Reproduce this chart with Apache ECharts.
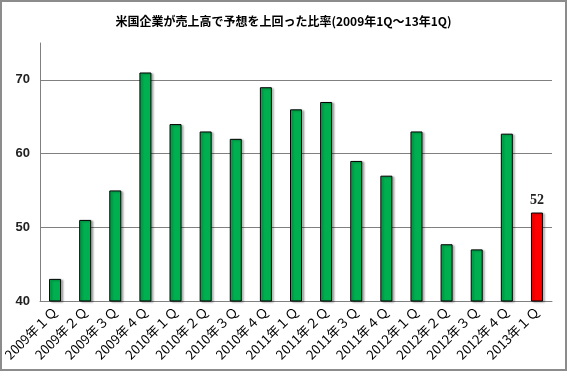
<!DOCTYPE html>
<html><head><meta charset="utf-8">
<script src="https://cdn.jsdelivr.net/npm/echarts@6/dist/echarts.min.js"></script>
<style>
html,body{margin:0;padding:0;background:#fff;}
#wrap{width:567px;height:371px;box-sizing:border-box;border:2px solid #8c8c8c;position:relative;}
#c{position:absolute;left:-2px;top:-2px;width:567px;height:371px;}
</style></head>
<body><div id="wrap"><div id="c"></div></div>
<script>
const categories = ["2009年１Ｑ","2009年２Ｑ","2009年３Ｑ","2009年４Ｑ","2010年１Ｑ","2010年２Ｑ","2010年３Ｑ","2010年４Ｑ","2011年１Ｑ","2011年２Ｑ","2011年３Ｑ","2011年４Ｑ","2012年１Ｑ","2012年２Ｑ","2012年３Ｑ","2012年４Ｑ","2013年１Ｑ"];
const values = [43, 51, 55, 71, 64, 63, 62, 69, 66, 67, 59, 57, 63, 47.7, 47, 62.7, 52];
const highlightIndex = 16;
const titleText = "米国企業が売上高で予想を上回った比率(2009年1Q～13年1Q)";

const chart = echarts.init(document.getElementById('c'), null, {renderer:'canvas'});
const data = values.map((v,i)=>({
  value: v,
  itemStyle: { color: i===highlightIndex ? '#FF0000' : '#00B050' },
  label: { show: i===highlightIndex }
}));
chart.setOption({
  animation:false,
  title:{ text:titleText, left:'center', top:10,
    textStyle:{ fontFamily:'Noto Sans CJK JP', fontSize:12, fontWeight:'bold', color:'#000' } },
  grid:{ left:40, right:15, top:43, bottom:70 },
  xAxis:{ type:'category', data:categories,
    axisLine:{ lineStyle:{ color:'#808080', width:1 } },
    axisTick:{ show:false },
    axisLabel:{ rotate:45, interval:0, margin:8, color:'#000', fontSize:13,
      fontFamily:'Noto Sans CJK JP' } },
  yAxis:{ type:'value', min:40, max:75, interval:10,
    axisLine:{ show:true, lineStyle:{ color:'#808080' } },
    axisTick:{ show:false },
    axisLabel:{ showMaxLabel:false, color:'#222', fontSize:13, fontWeight:'bold',
      fontFamily:'Liberation Sans', margin:10 },
    splitLine:{ showMaxLine:false, lineStyle:{ color:'#808080', width:1 } } },
  series:[{ type:'bar', data:data, barWidth:12,
    itemStyle:{ borderColor:'#000', borderWidth:1,
      shadowColor:'rgba(0,0,0,0.3)', shadowBlur:2, shadowOffsetX:2, shadowOffsetY:1 },
    label:{ position:'top', distance:5, color:'#222', fontSize:14, fontWeight:'bold',
      fontFamily:'Liberation Serif' } }]
});
</script></body></html>
